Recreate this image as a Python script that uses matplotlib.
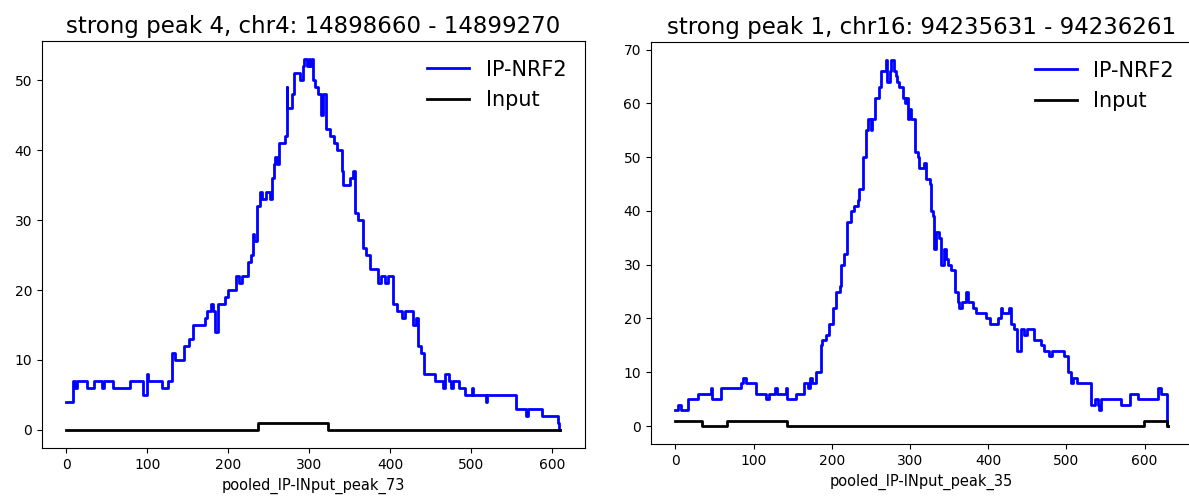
import numpy as np
from matplotlib import pyplot as plt

# Coverage: (start position, depth).
# Each step holds until the next start; the last entry closes the region.
peak4_title = "strong peak 4, chr4: 14898660 - 14899270"
peak4_name = "pooled_IP-INput_peak_73"
peak4_ip_pos = [0, 8, 10, 13, 25, 34, 44, 47, 58, 79, 95, 99, 101, 118, 126, 131, 134,
                145, 151, 156, 171, 174, 178, 181, 184, 187, 196, 200, 209, 213, 217,
                224, 228, 230, 232, 236, 239, 242, 247, 252, 254, 256, 258, 260, 263,
                270, 272, 273, 278, 281, 288, 292, 294, 297, 299, 301, 303, 305, 307,
                311, 315, 317, 321, 325, 330, 334, 340, 342, 350, 354, 356, 360, 366,
                370, 375, 385, 389, 393, 397, 403, 408, 414, 418, 428, 432, 434, 438,
                442, 455, 465, 467, 473, 475, 478, 485, 492, 501, 502, 518, 520, 555,
                568, 570, 588, 607, 609, 610]
peak4_ip_val = [4, 7, 6, 7, 6, 7, 6, 7, 6, 7, 5, 8, 7, 6, 7, 11, 10,
                12, 13, 15, 16, 17, 18, 17, 14, 18, 19, 20, 22, 21, 22,
                24, 25, 28, 27, 32, 34, 33, 34, 33, 36, 38, 39, 38, 41,
                42, 49, 46, 48, 51, 50, 52, 53, 52, 53, 52, 53, 50, 49,
                48, 45, 48, 43, 42, 41, 40, 37, 35, 36, 37, 31, 30, 26,
                25, 23, 21, 22, 21, 22, 18, 17, 16, 17, 15, 16, 12, 11,
                8, 7, 6, 8, 7, 6, 7, 6, 5, 6, 5, 4, 5, 3,
                2, 3, 2, 1, 0, 0]
peak4_in_pos = [0, 237, 323, 610]
peak4_in_val = [0, 1, 0, 0]

peak1_title = "strong peak 1, chr16: 94235631 - 94236261"
peak1_name = "pooled_IP-INput_peak_35"
peak1_ip_pos = [0, 3, 7, 16, 29, 45, 47, 58, 84, 87, 90, 103, 116, 120, 128, 130, 141,
                143, 154, 164, 169, 172, 175, 180, 186, 188, 193, 196, 201, 205, 210,
                212, 216, 220, 225, 229, 233, 235, 240, 244, 246, 250, 252, 255, 261,
                263, 269, 271, 274, 276, 280, 282, 284, 286, 291, 293, 295, 297, 299,
                301, 307, 310, 312, 318, 320, 325, 327, 329, 331, 333, 337, 340, 343,
                346, 348, 352, 357, 361, 363, 367, 371, 374, 380, 384, 397, 402, 412,
                416, 418, 427, 429, 433, 437, 442, 446, 450, 459, 467, 472, 478, 482,
                497, 502, 506, 508, 514, 531, 536, 540, 542, 544, 570, 581, 591, 617,
                621, 629, 630]
peak1_ip_val = [3, 4, 3, 5, 6, 7, 5, 7, 8, 9, 8, 6, 5, 6, 7, 6, 7,
                5, 6, 8, 7, 9, 8, 10, 15, 16, 17, 19, 22, 25, 26,
                30, 32, 38, 40, 41, 42, 44, 50, 55, 57, 55, 57, 61, 63,
                66, 68, 64, 66, 68, 66, 65, 64, 63, 61, 60, 61, 57, 59,
                57, 51, 50, 48, 49, 46, 45, 40, 39, 33, 36, 35, 30, 33,
                31, 30, 29, 25, 23, 22, 23, 25, 23, 22, 21, 20, 19, 20,
                22, 21, 22, 19, 18, 14, 18, 17, 18, 16, 15, 14, 13, 14,
                13, 10, 8, 9, 8, 4, 5, 4, 3, 5, 4, 6, 5, 7,
                6, 0, 0]
peak1_in_pos = [0, 34, 66, 143, 599, 629, 630]
peak1_in_val = [1, 0, 1, 0, 1, 0, 0]


def plot_peak(ax, title, name, ip_pos, ip_val, in_pos, in_val):
    ax.plot(ip_pos, ip_val, color="blue", lw=2, drawstyle="steps-post", label="IP-NRF2")
    ax.plot(in_pos, in_val, color="black", lw=2, drawstyle="steps-post", label="Input")
    ax.set_title(title, fontsize=16.5)
    ax.set_xlabel(name, fontsize=10.5)
    ax.tick_params(labelsize=10)
    ax.legend(loc="upper right", frameon=False, fontsize=15)


def main():
    fig = plt.figure(figsize=(11.89, 4.98), dpi=100)

    # The right panel runs a little past the figure edge, as in the source image.
    ax1 = fig.add_axes([0.0351, 0.0998, 0.4569, 0.8179])
    ax2 = fig.add_axes([0.5473, 0.1078, 0.4558, 0.8078])

    plot_peak(ax1, peak4_title, peak4_name, peak4_ip_pos, peak4_ip_val,
              peak4_in_pos, peak4_in_val)
    plot_peak(ax2, peak1_title, peak1_name, peak1_ip_pos, peak1_ip_val,
              peak1_in_pos, peak1_in_val)

    fig.savefig("out.png", dpi=100)


if __name__ == "__main__":
    main()
